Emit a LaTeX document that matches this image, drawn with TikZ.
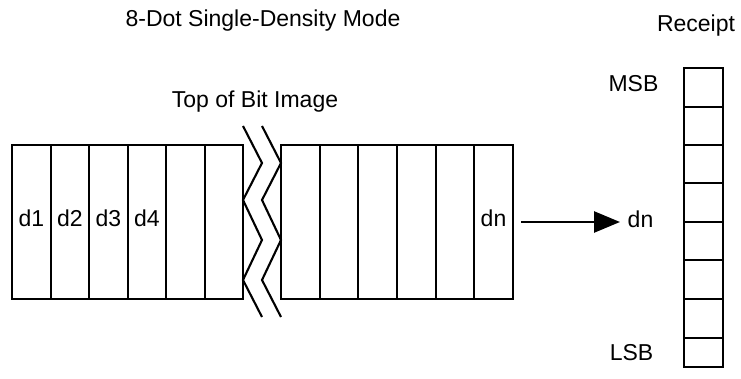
\documentclass[tikz,border=0pt]{standalone}
\usepackage{fontspec}
\setmainfont{Liberation Sans}
\usetikzlibrary{arrows.meta}
\begin{document}
\begin{tikzpicture}[x=1pt,y=-1pt,
  lbl/.style={font=\fontsize{23}{27}\selectfont, inner sep=0pt, anchor=base},
  outer/.style={line width=1.8pt},
  divider/.style={line width=2.7pt},
  zig/.style={line width=2.1pt, line join=miter},
  arr/.style={line width=2.6pt, -{Triangle[length=26pt,width=21pt]}}]
\useasboundingbox (0,0) rectangle (741,379);
% titles
\node[lbl] (title) at (263,27) {8-Dot Single-Density Mode};
\node[lbl] (top) at (255,108) {Top of Bit Image};
\node[lbl] (receipt) at (696,32) {Receipt};
% left block
\draw[outer] (12,145) rectangle (243,299);
\foreach \x in {51,89,128,166,205} \draw[divider] (\x,145) -- (\x,299);
\node[lbl] (d1) at (31.5,227) {d1};
\node[lbl] (d2) at (70,227) {d2};
\node[lbl] (d3) at (108.5,227) {d3};
\node[lbl] (d4) at (147,227) {d4};
% right block
\draw[outer] (281,145) rectangle (513,299);
\foreach \x in {320,358,397,436,474} \draw[divider] (\x,145) -- (\x,299);
\node[lbl] (dnL) at (493.5,227) {dn};
% zigzags
\draw[zig] (243,126) -- (262,163) -- (243,200) -- (262,240) -- (243,280) -- (262,317);
\draw[zig] (262,126) -- (281,163) -- (262,200) -- (281,240) -- (262,280) -- (281,317);
% arrow
\coordinate (aS) at (521,222);
\coordinate (aE) at (620,222);
\draw[arr] (aS) -- (aE);
\node[lbl] (dnR) at (640.5,228) {dn};
% receipt column
\draw[outer] (684,68) rectangle (723,367);
\foreach \y in {107,145,183,222,260,299,338} \draw[divider] (684,\y) -- (723,\y);
\node[lbl] (msb) at (633.5,92) {MSB};
\node[lbl] (lsb) at (631.5,360) {LSB};
\end{tikzpicture}
\end{document}
